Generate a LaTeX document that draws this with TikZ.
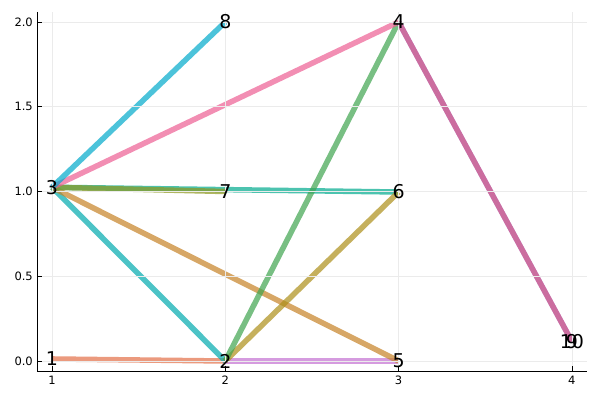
\documentclass[tikz,border=0pt]{standalone}
\usepackage{fontspec}
\setmainfont{DejaVu Sans}
\usepackage{xcolor}
\usetikzlibrary{positioning}
\definecolor{edgeorange}{HTML}{E36F47}
\definecolor{edgegreen}{HTML}{3EA44E}
\definecolor{edgepurple}{HTML}{C371D2}
\definecolor{edgeolive}{HTML}{AC8E18}
\definecolor{edgeteal}{HTML}{00AAAE}
\definecolor{edgepink}{HTML}{ED5E93}
\definecolor{edgebrown}{HTML}{C68225}
\definecolor{edgesea}{HTML}{00A98D}
\definecolor{edgemoss}{HTML}{8E971E}
\definecolor{edgesky}{HTML}{00A9CB}
\definecolor{edgelilac}{HTML}{9B7FE8}
\definecolor{edgerose}{HTML}{D4567E}
\definecolor{gridgray}{HTML}{EBEBEB}
\pgfdeclarelayer{background}
\pgfsetlayers{background,main}

\begin{document}
\begin{tikzpicture}[
  x=173.3pt, y=169.5pt,
  vtx/.style={inner sep=0pt, font=\fontsize{19}{19}\selectfont},
  edge/.style={line width=5.5pt, draw opacity=0.7},
  gridline/.style={draw=gridgray, line width=0.6pt},
  axisline/.style={draw=black, line width=0.9pt},
  ticklabel/.style={inner sep=0pt, font=\fontsize{11.5}{13}\selectfont}
]
\useasboundingbox (121.3pt,-39pt) rectangle (721.3pt,361pt);

% grid and axes
\foreach \xv in {1,2,3,4}
  \draw[gridline] (\xv,-0.059) -- (\xv,2.059);
\foreach \yv in {0,0.5,1,1.5,2}
  \draw[gridline] (0.9135,\yv) -- (4.087,\yv);
\draw[axisline] (0.9135,2.059) -- (0.9135,-0.059) -- (4.087,-0.059);
\foreach \xv in {1,2,3,4} {
  \draw[axisline, line width=0.6pt] (\xv,-0.059) -- ++(0,5pt);
  \node[ticklabel, anchor=north] at ([yshift=-5pt]\xv,-0.059) {\xv};
}
\foreach \yv/\txt in {0/0.0,0.5/0.5,1/1.0,1.5/1.5,2/2.0} {
  \draw[axisline, line width=0.6pt] (0.9135,\yv) -- ++(5pt,0);
  \node[ticklabel, anchor=east] at ([xshift=-4pt]0.9135,\yv) {\txt};
}

% vertices
\node[vtx] (n1) at (1,0.012) {1};
\node[vtx] (n2) at (2,0) {2};
\node[vtx] (n3) at (1,1.025) {3};
\node[vtx] (n4) at (3,2) {4};
\node[vtx] (n5) at (3,0) {5};
\node[vtx] (n6) at (3,0.997) {6};
\node[vtx] (n7) at (2,1.0) {7};
\node[vtx] (n8) at (2,2) {8};
\node[vtx] (n9) at (4,0.115) {9};
\node[vtx] (n10) at (4,0.115) {10};

% edges
\begin{pgfonlayer}{background}
\draw[edge, edgeorange] (n1.center) -- (n2.center);
\draw[edge, edgepurple] (n2.center) -- (n5.center);
\draw[edge, edgeteal] (n3.center) -- (n2.center);
\draw[edge, edgebrown] (n3.center) -- (n5.center);
\draw[edge, edgesea] (n3.center) -- (n6.center);
\draw[edge, edgemoss] (n3.center) -- (n7.center);
\draw[edge, edgeolive] (n2.center) -- (n6.center);
\draw[edge, edgegreen] (n2.center) -- (n4.center);
\draw[edge, edgepink] (n3.center) -- (n4.center);
\draw[edge, edgesky] (n3.center) -- (n8.center);
\draw[edge, edgelilac] (n4.center) -- (n9.center);
\draw[edge, edgerose] (n4.center) -- (n10.center);
\end{pgfonlayer}

\end{tikzpicture}
\end{document}
